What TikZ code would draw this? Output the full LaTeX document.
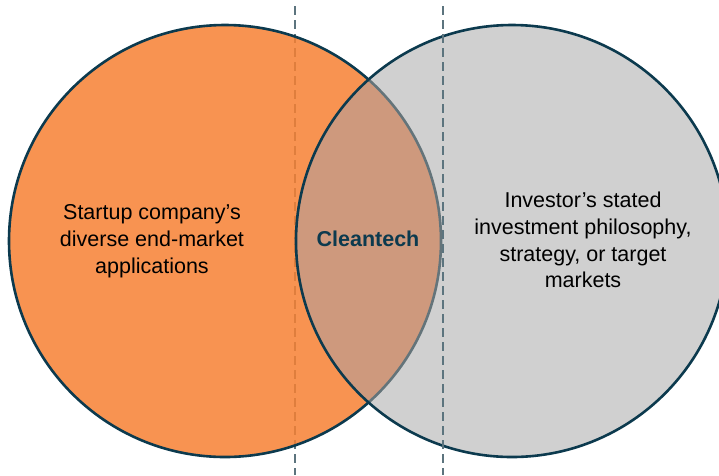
\documentclass[tikz,border=0pt]{standalone}
\usepackage{fontspec}
\setmainfont{Liberation Sans}
\begin{document}
\begin{tikzpicture}[x=1pt,y=-1pt,
  outline/.style={draw=navy,line width=2.6pt},
  guide/.style={draw=guidec,line width=1.8pt,dash pattern=on 9pt off 5pt},
  label/.style={align=center,font=\fontsize{21.5}{26.8}\selectfont,text=black}]
\definecolor{navy}{RGB}{12,58,78}
\definecolor{guidec}{RGB}{92,116,126}
\definecolor{orangec}{RGB}{247,128,50}
\definecolor{greyc}{RGB}{208,208,208}
\definecolor{mixc}{RGB}{206,153,125}
\definecolor{faded}{RGB}{100,116,122}
\useasboundingbox (0,0) rectangle (719,475);
\coordinate (Lc) at (225,241);
\coordinate (Rc) at (512,241);
\coordinate (gLt) at (295,6);
\coordinate (gLb) at (295,475);
\coordinate (gRt) at (443,6);
\coordinate (gRb) at (443,475);
% left guide under orange
\draw[guide] (gLt) -- (gLb);
% left circle
\fill[orangec,fill opacity=0.85] (Lc) circle[radius=216];
\draw[outline] (Lc) circle[radius=216];
% right circle fill
\fill[greyc] (Rc) circle[radius=216];
% intersection
\begin{scope}
  \clip (Lc) circle[radius=216];
  \fill[mixc] (Rc) circle[radius=216];
\end{scope}
% left outline inside right circle (faded)
\begin{scope}
  \clip (Rc) circle[radius=216];
  \draw[draw=faded,line width=2.6pt] (Lc) circle[radius=216];
\end{scope}
\draw[outline] (Rc) circle[radius=216];
% right guide on top
\draw[guide] (gRt) -- (gRb);
% texts
\node[label] (lt) at (152,241) {Startup company’s\\diverse end-market\\applications};
\node[label] (rt) at (583,240) {Investor’s stated\\investment philosophy,\\strategy, or target\\markets};
\node[font=\fontsize{21.5}{26}\selectfont\bfseries,text=navy] (ct) at (368,239) {Cleantech};
\end{tikzpicture}
\end{document}
